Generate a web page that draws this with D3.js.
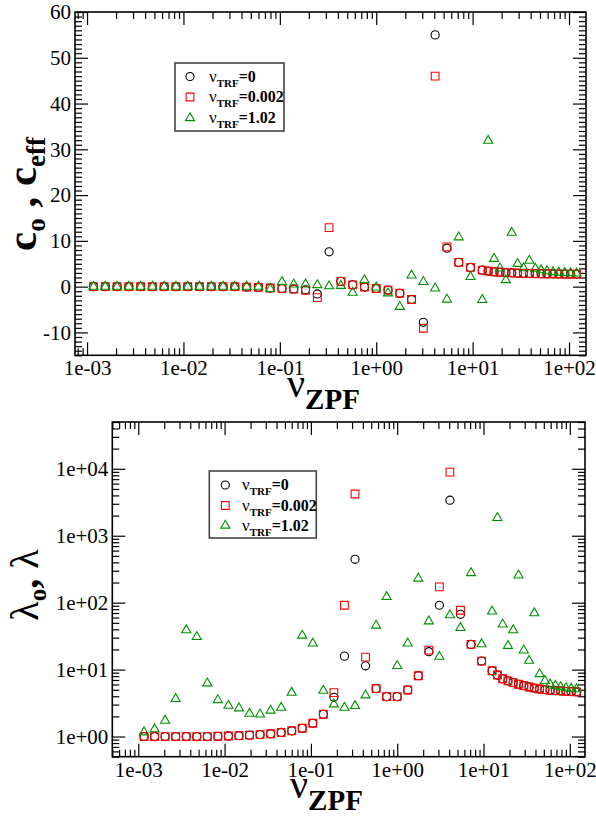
<!DOCTYPE html>
<html><head><meta charset="utf-8">
<script src="https://cdn.jsdelivr.net/npm/d3@7"></script>
<style>body{margin:0;background:#fff}svg{display:block}</style>
</head><body>
<svg id="chart" width="596" height="819"></svg>
<script>
// ---------------- DATA ----------------
const nuZPF = [0.001166,0.001545,0.002047,0.002712,0.003594,0.004762,0.00631,0.00836,0.01108,0.01468,
  0.01945,0.02577,0.03414,0.04524,0.05994,0.07942,0.1052,0.1394,0.1848,0.2448,
  0.3244,0.4298,0.5694,0.7547,1.0,1.325,1.756,2.326,3.082,4.084,
  5.411,7.170,9.500,12.59,14.49,16.68,19.20,22.10,25.44,29.28,
  33.71,38.80,44.66,51.41,59.18,68.12,78.41,90.26,103.9,119.6];

// top panel: c_o / c_eff
const cTRF0 = [0,0,0,0,0,0,0,0,0,0,0,0,0,
  -0.1,-0.15,-0.3,-0.4,-0.5,-0.7,-1.6,7.6,1.15,0.4,-0.1,
  -0.4,-0.75,-1.45,-2.8,-7.8,55.0,8.4,5.3,4.2,3.6,
  3.4,3.25,3.15,3.05,3.0,2.95,2.9,2.87,2.84,2.82,2.8,2.78,2.76,2.75,2.74,2.72];
const cTRF0002 = [0,0,0,0,0,0,0,0,0,0,0,0,0,
  -0.1,-0.15,-0.3,-0.4,-0.55,-0.8,-2.4,12.9,1.15,0.4,-0.1,
  -0.4,-0.75,-1.45,-2.8,-9.1,46.0,8.7,5.3,4.2,3.6,
  3.4,3.25,3.15,3.05,3.0,2.95,2.9,2.87,2.84,2.82,2.8,2.78,2.76,2.75,2.74,2.72];
const cTRF102 = [0,0,0,0,0,0,0,0,0,0,0,0,0,0,0,
  -0.5,1.05,0.5,0.5,0.35,0.1,0.2,-1.3,1.45,
  -0.15,-1.45,-4.4,2.45,1.05,-0.37,-2.8,10.8,2.15,-2.9,
  31.9,6.1,4.0,1.45,11.8,5.0,4.05,5.7,3.95,3.6,3.4,3.2,3.1,3.0,2.95,2.9];

// bottom panel: lambda_o / lambda
const lamTRF0 = [1.0,1.0,1.0,1.0,1.0,1.0,
  1.0,1.01,1.02,1.03,1.05,1.07,1.1,1.15,1.22,1.33,1.58,2.15,3.86,15.9,445,11.4,5.2,3.95,
  3.95,4.96,8.1,18.5,91.5,3400,67,23.8,13.4,9.6,
  8.3,7.3,6.8,6.4,6.04,5.75,5.5,5.3,5.13,5.02,4.9,4.85,4.8,4.74,4.7,4.64];
const lamTRF0002 = [1.0,1.0,1.0,1.0,1.0,1.0,
  1.0,1.01,1.02,1.03,1.05,1.07,1.1,1.15,1.22,1.33,1.58,2.15,4.53,91.5,4200,15.4,5.2,3.95,
  3.95,4.96,8.1,19.5,172,8900,77,23.8,13.4,9.6,
  8.3,7.3,6.8,6.4,6.04,5.75,5.5,5.3,5.13,5.02,4.9,4.85,4.8,4.74,4.7,4.64];
const lamTRF102 = [1.16,1.29,1.73,3.65,38.9,30.9,6.25,3.52,2.9,2.65,2.2,2.15,2.45,2.7,4.53,32.3,24.6,4.85,3.04,2.7,2.87,4.14,45.6,122,
  11.4,24.6,230,52.8,15.6,65,42,278,24,74,
  1850,47.3,22.7,38.9,256,19.4,13.6,69.8,8.6,6.8,6.04,5.75,5.5,5.3,5.2,5.1];

const legendLabels = ["=0", "=0.002", "=1.02"];
const topYTicks = [-10, 0, 10, 20, 30, 40, 50, 60];

// ---------------- STYLE ----------------
const FONT = '"Liberation Serif"';
const colors = ["#000000", "#ff0000", "#009100"];
const shapes = [d3.symbolCircle, d3.symbolSquare, d3.symbolTriangle];
const sizes = [52, 60, 36];

const svg = d3.select("#chart");

function logLabel(d) {
  const e = Math.round(Math.log10(d));
  return "1e" + (e < 0 ? "-" : "+") + String(Math.abs(e)).padStart(2, "0");
}
const isDecade = d => Math.abs(Math.log10(d) - Math.round(Math.log10(d))) < 1e-9;

function txt(sel, size, bold) {
  sel.style("font-family", FONT).style("font-size", size + "px");
  if (bold) sel.style("font-weight", "bold");
  return sel;
}

function drawFrameAxes(g, x, y, opts) {
  const [x0, x1] = x.range(), [y0, y1] = y.range();
  const W = x1 - x0, H = y0 - y1;
  const allX = x.ticks(), majX = allX.filter(isDecade), minX = allX.filter(d => !isDecade(d));
  const majY = opts.yMajor, minY = opts.yMinor;
  const MJ = 13, MN = 7;
  const style = sel => { sel.attr("font-family", null).attr("font-size", null);
    sel.select(".domain").remove(); sel.selectAll("line").attr("stroke", "#000").attr("stroke-width", 1.2); };
  // bottom
  g.append("g").attr("transform", `translate(0,${y0})`)
    .call(d3.axisBottom(x).tickValues(majX).tickSize(-MJ).tickPadding(5).tickFormat(logLabel))
    .call(style)
    .call(s => txt(s.selectAll("text"), 21).attr("fill", "#000").attr("dy", "0.71em").attr("y", 5));
  g.append("g").attr("transform", `translate(0,${y0})`).call(d3.axisBottom(x).tickValues(minX).tickSize(-MN).tickFormat("")).call(style);
  // top
  g.append("g").attr("transform", `translate(0,${y1})`).call(d3.axisTop(x).tickValues(majX).tickSize(-MJ).tickFormat("")).call(style);
  g.append("g").attr("transform", `translate(0,${y1})`).call(d3.axisTop(x).tickValues(minX).tickSize(-MN).tickFormat("")).call(style);
  // left
  g.append("g").attr("transform", `translate(${x0},0)`)
    .call(d3.axisLeft(y).tickValues(majY).tickSize(-MJ).tickPadding(opts.yPad).tickFormat(opts.yFmt))
    .call(style)
    .call(s => txt(s.selectAll("text"), 21).attr("fill", "#000"));
  g.append("g").attr("transform", `translate(${x0},0)`).call(d3.axisLeft(y).tickValues(minY).tickSize(-MN).tickFormat("")).call(style);
  // right
  g.append("g").attr("transform", `translate(${x1},0)`).call(d3.axisRight(y).tickValues(majY).tickSize(-MJ).tickFormat("")).call(style);
  g.append("g").attr("transform", `translate(${x1},0)`).call(d3.axisRight(y).tickValues(minY).tickSize(-MN).tickFormat("")).call(style);
  // frame
  g.append("rect").attr("x", x0).attr("y", y1).attr("width", W).attr("height", H)
    .attr("fill", "none").attr("stroke", "#000").attr("stroke-width", 1.6);
}

function drawSeries(g, x, y, seriesList) {
  seriesList.forEach((vals, i) => {
    g.append("g").selectAll("path").data(vals).join("path")
      .attr("transform", (d, j) => `translate(${x(nuZPF[j])},${y(d)})`)
      .attr("d", d3.symbol().type(shapes[i]).size(sizes[i]))
      .attr("fill", "none").attr("stroke", colors[i]).attr("stroke-width", 1.1);
  });
}

function drawLegend(g, bx, by, bw, bh, symX, textX, rowY) {
  g.append("rect").attr("x", bx).attr("y", by).attr("width", bw).attr("height", bh)
    .attr("fill", "#fff").attr("stroke", "#444").attr("stroke-width", 1.6);
  legendLabels.forEach((lab, i) => {
    g.append("path").attr("transform", `translate(${symX},${rowY[i]})`)
      .attr("d", d3.symbol().type(shapes[i]).size(sizes[i]))
      .attr("fill", "none").attr("stroke", colors[i]).attr("stroke-width", 1.1);
    const t = g.append("text").attr("x", textX).attr("y", rowY[i] + 5).attr("fill", "#000");
    txt(t.append("tspan"), 17).text("ν");
    txt(t.append("tspan"), 11, true).attr("dy", 5).text("TRF");
    txt(t.append("tspan"), 16, true).attr("dy", -5).text(lab);
  });
}

// ---------------- TOP PANEL ----------------
const gTop = svg.append("g");
const xTop = d3.scaleLog().domain([7.5e-4, 150]).range([75, 586]);
const yTop = d3.scaleLinear().domain([-15, 60]).range([355.3, 12]);
drawFrameAxes(gTop, xTop, yTop, {
  yMajor: topYTicks,
  yMinor: yTop.ticks(75).filter(d => !topYTicks.includes(d)),
  yFmt: d => String(d), yPad: 4
});
drawSeries(gTop, xTop, yTop, [cTRF0, cTRF0002, cTRF102]);
drawLegend(gTop, 175, 63, 109, 68, 190, 209, [76.5, 97, 118]);

// y label top
const tyl = gTop.append("text").attr("transform", "translate(36,194) rotate(-90)")
  .attr("text-anchor", "middle").attr("fill", "#000");
txt(tyl.append("tspan"), 43, true).text("c");
txt(tyl.append("tspan"), 27, true).attr("dy", 9).text("o");
txt(tyl.append("tspan"), 43, true).attr("dy", -9).text(" , c");
txt(tyl.append("tspan"), 27, true).attr("dy", 9).text("eff");

// x label top
const txl = gTop.append("text").attr("x", 287).attr("y", 397).attr("fill", "#000");
txt(txl.append("tspan"), 40).text("ν");
txt(txl.append("tspan"), 29, true).attr("dy", 12).text("ZPF");

// ---------------- BOTTOM PANEL ----------------
const gBot = svg.append("g");
const xBot = d3.scaleLog().domain([5e-4, 150]).range([112.3, 585]);
const yBot = d3.scaleLog().domain([0.5, 5e4]).range([756.7, 422]);
const allYB = yBot.ticks();
drawFrameAxes(gBot, xBot, yBot, {
  yMajor: allYB.filter(isDecade),
  yMinor: allYB.filter(d => !isDecade(d)),
  yFmt: logLabel, yPad: 4
});
drawSeries(gBot, xBot, yBot, [lamTRF0, lamTRF0002, lamTRF102]);
drawLegend(gBot, 209.3, 471, 107, 67, 225.3, 242, [485, 505.5, 525.5]);

const byl = gBot.append("text").attr("transform", "translate(38,585) rotate(-90)")
  .attr("text-anchor", "middle").attr("fill", "#000");
txt(byl.append("tspan"), 40).text("λ");
txt(byl.append("tspan"), 25, true).attr("dy", 8).text("o");
txt(byl.append("tspan"), 40, true).attr("dy", -8).text(",");
txt(byl.append("tspan"), 40).text(" λ");

const bxl = gBot.append("text").attr("x", 290).attr("y", 798).attr("fill", "#000");
txt(bxl.append("tspan"), 40).text("ν");
txt(bxl.append("tspan"), 29, true).attr("dy", 12).text("ZPF");
</script>
</body></html>
